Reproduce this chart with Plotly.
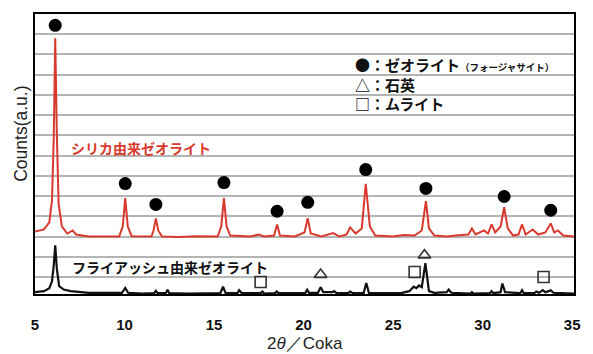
import plotly.graph_objects as go

# XRD pattern of zeolite synthesised from silica (red, offset upward)
silica_2theta = [5.0, 5.5, 5.8, 5.95, 6.05, 6.13, 6.22, 6.32, 6.5, 6.8, 7.1, 7.3, 8.0, 9.0,
                 9.7, 9.9, 10.04, 10.18, 10.4, 11.5, 11.62, 11.75, 11.88, 12.1, 13.0, 14.0,
                 15.2, 15.4, 15.55, 15.7, 15.9, 17.0, 17.5, 17.8, 18.35, 18.52, 18.68, 19.5,
                 20.05, 20.23, 20.4, 21.0, 21.65, 22.0, 22.4, 22.6, 22.9, 23.25, 23.47, 23.7,
                 24.0, 25.0, 25.6, 26.2, 26.6, 26.83, 27.0, 27.3, 28.0, 28.5, 29.2, 29.4,
                 29.6, 30.07, 30.3, 30.5, 30.7, 31.0, 31.2, 31.4, 31.7, 32.0, 32.2, 32.4,
                 32.8, 33.1, 33.5, 33.8, 34.0, 34.2, 34.5, 35.1]
silica_counts = [2.25, 2.35, 2.7, 3.8, 7.0, 11.8, 7.0, 3.6, 2.5, 2.15, 2.3, 2.1, 2.0, 1.98,
                 2.0, 2.5, 3.9, 2.5, 2.02, 2.0, 2.3, 2.9, 2.3, 2.0, 1.98, 2.02,
                 2.0, 2.5, 3.9, 2.5, 2.05, 2.0, 2.1, 2.0, 2.05, 2.6, 2.05, 2.0,
                 2.2, 2.9, 2.15, 2.0, 2.17, 2.0, 2.1, 2.45, 2.15, 2.4, 4.6, 2.5,
                 2.05, 2.0, 2.08, 2.05, 2.3, 3.75, 2.4, 2.05, 2.0, 2.05, 2.1, 2.4,
                 2.1, 2.3, 2.15, 2.6, 2.2, 2.5, 3.45, 2.4, 2.05, 2.1, 2.6, 2.1,
                 2.35, 2.1, 2.2, 2.65, 2.2, 2.3, 2.05, 2.0]

# XRD pattern of zeolite synthesised from fly ash (black)
flyash_2theta = [5.0, 5.5, 5.8, 5.95, 6.05, 6.13, 6.22, 6.35, 6.6, 7.0, 8.0, 9.0, 9.85, 10.04,
                 10.2, 11.0, 11.65, 11.75, 11.85, 12.3, 12.4, 12.5, 13.5, 15.35, 15.5, 15.65,
                 16.3, 16.4, 16.55, 17.6, 17.7, 17.8, 18.4, 18.5, 18.6, 20.1, 20.2, 20.3,
                 20.8, 20.95, 21.1, 21.6, 21.7, 21.85, 22.5, 22.6, 22.75, 23.35, 23.5, 23.65,
                 25.5, 25.9, 26.0, 26.15, 26.3, 26.45, 26.6, 26.7, 26.8, 26.9, 27.0, 27.3,
                 28.0, 28.1, 28.25, 29.3, 29.4, 29.5, 30.4, 30.5, 30.6, 31.0, 31.1, 31.25,
                 32.1, 32.2, 32.3, 32.9, 33.0, 33.15, 33.35, 33.5, 33.7, 33.8, 33.95, 34.5, 35.1]
flyash_counts = [-0.75, -0.7, -0.55, -0.2, 0.6, 1.57, 0.4, -0.45, -0.62, -0.7, -0.78, -0.8, -0.78, -0.54,
                 -0.78, -0.82, -0.8, -0.68, -0.8, -0.8, -0.63, -0.8, -0.82, -0.8, -0.48, -0.8,
                 -0.8, -0.65, -0.8, -0.8, -0.72, -0.82, -0.8, -0.72, -0.8, -0.78, -0.63, -0.78,
                 -0.78, -0.5, -0.75, -0.75, -0.7, -0.8, -0.8, -0.72, -0.8, -0.8, -0.3, -0.8,
                 -0.78, -0.7, -0.6, -0.48, -0.55, -0.42, -0.5, 0.0, 0.69, 0.0, -0.7, -0.78,
                 -0.75, -0.62, -0.78, -0.82, -0.75, -0.82, -0.8, -0.7, -0.8, -0.75, -0.32, -0.75,
                 -0.8, -0.65, -0.8, -0.78, -0.72, -0.78, -0.65, -0.75, -0.7, -0.66, -0.78, -0.8, -0.82]

# Phase markers: zeolite (faujasite), quartz, mullite
faujasite_x = [6.13, 10.04, 11.75, 15.55, 18.52, 20.23, 23.47, 26.83, 31.2, 33.8]
faujasite_y = [12.44, 4.62, 3.59, 4.67, 3.25, 3.69, 5.31, 4.38, 3.98, 3.30]
quartz_x = [20.95, 26.75]
quartz_y = [0.12, 1.08]
mullite_x = [17.6, 26.2, 33.4]
mullite_y = [-0.25, 0.25, 0.0]

x_ticks = [5, 10, 15, 20, 25, 30, 35]

jp = "Noto Sans CJK JP"
latin = "Liberation Sans"

fig = go.Figure()
fig.add_trace(go.Scatter(x=silica_2theta, y=silica_counts, mode="lines",
                         line=dict(color="#d93a2e", width=2)))
fig.add_trace(go.Scatter(x=flyash_2theta, y=flyash_counts, mode="lines",
                         line=dict(color="#111111", width=2.2)))
fig.add_trace(go.Scatter(x=faujasite_x, y=faujasite_y, mode="markers",
                         marker=dict(symbol="circle", size=13, color="black")))
fig.add_trace(go.Scatter(x=quartz_x, y=quartz_y, mode="markers",
                         marker=dict(symbol="triangle-up-open", size=11, color="#333333",
                                     line=dict(width=1.6, color="#333333"))))
fig.add_trace(go.Scatter(x=mullite_x, y=mullite_y, mode="markers",
                         marker=dict(symbol="square-open", size=11, color="#333333",
                                     line=dict(width=1.6, color="#333333"))))

annotations = [
    dict(x=22.75, y=10.48, xanchor="left", yanchor="middle",
         text="<b>●：ゼオライト<span style='font-size:9.5px'>（フォージャサイト）</span></b>",
         font=dict(family=jp, size=15, color="#111111")),
    dict(x=22.75, y=9.54, xanchor="left", yanchor="middle",
         text="<b>△：石英</b>", font=dict(family=jp, size=15, color="#111111")),
    dict(x=22.75, y=8.56, xanchor="left", yanchor="middle",
         text="<b>□：ムライト</b>", font=dict(family=jp, size=15, color="#111111")),
    dict(x=6.9, y=6.39, xanchor="left", yanchor="middle",
         text="<b>シリカ由来ゼオライト</b>", font=dict(family=jp, size=14, color="#d93a2e")),
    dict(x=6.95, y=0.49, xanchor="left", yanchor="middle",
         text="<b>フライアッシュ由来ゼオライト</b>", font=dict(family=jp, size=14, color="#111111")),
]
for a in annotations:
    a.update(xref="x", yref="y", showarrow=False)

# axis titles
annotations += [
    dict(xref="paper", yref="paper", x=0.5, y=-0.178, xanchor="center", yanchor="middle",
         text="2<i>θ</i>／Coka", showarrow=False,
         font=dict(family=latin, size=17, color="#222222")),
    dict(xref="paper", yref="paper", x=-0.0274, y=0.573, xanchor="center", yanchor="middle",
         text="Counts(a.u.)", textangle=-90, showarrow=False,
         font=dict(family=latin, size=17.5, color="#222222")),
]

fig.update_layout(
    width=593, height=354,
    margin=dict(l=35, r=12, t=13, b=60),
    paper_bgcolor="white", plot_bgcolor="white",
    showlegend=False,
    annotations=annotations,
    xaxis=dict(range=[5, 35.1], tickvals=x_ticks, ticktext=[f"<b>{t}</b>" for t in x_ticks],
               showgrid=False, zeroline=False, ticks="",
               showline=True, mirror=True, linecolor="black", linewidth=2,
               tickfont=dict(family=latin, size=15, color="#111111"),
               ticklabelstandoff=16),
    yaxis=dict(range=[-0.84, 13], tick0=0, dtick=1, showticklabels=False,
               showgrid=True, gridcolor="#b4b4b4", gridwidth=1.6, zeroline=False, ticks="",
               showline=True, mirror=True, linecolor="black", linewidth=2),
)

fig.write_html("out.html")
